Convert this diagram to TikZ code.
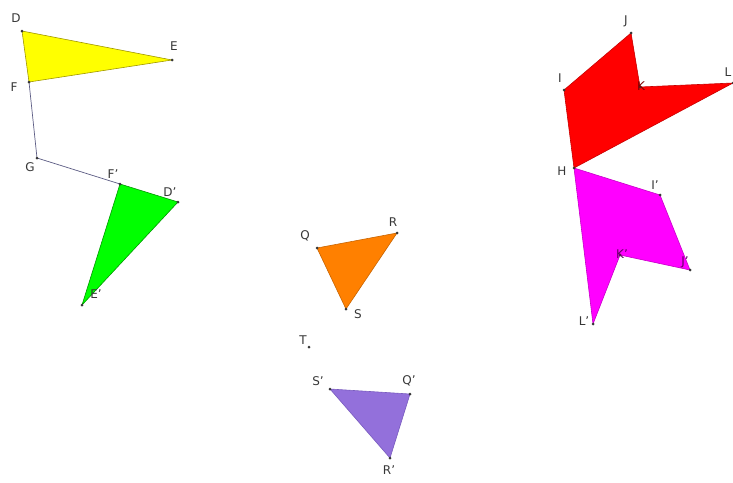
\documentclass[tikz,border=0pt]{standalone}
\usepackage{fontspec}
\setmainfont{DejaVu Sans}
\definecolor{cyel}{RGB}{255,255,0}
\definecolor{cyelD}{RGB}{160,150,0}
\definecolor{cgrn}{RGB}{0,255,0}
\definecolor{cgrnD}{RGB}{0,150,0}
\definecolor{corg}{RGB}{255,128,0}
\definecolor{corgD}{RGB}{200,100,0}
\definecolor{cpur}{RGB}{147,112,219}
\definecolor{cpurD}{RGB}{120,90,190}
\definecolor{cred}{RGB}{255,0,0}
\definecolor{credD}{RGB}{200,0,0}
\definecolor{cmag}{RGB}{255,0,255}
\definecolor{cmagD}{RGB}{200,0,200}
\definecolor{cline}{RGB}{90,90,130}
\definecolor{ctext}{RGB}{55,55,55}
\begin{document}
\begin{tikzpicture}[x=1pt,y=-1pt,
  lbl/.style={text=ctext,font=\fontsize{12}{13}\selectfont,inner sep=0pt},
  shp/.style={line width=0.6pt}]
\useasboundingbox (0,0) rectangle (733,482);
% vertices
\coordinate (D) at (22,31);
\coordinate (E) at (172,60);
\coordinate (F) at (29,82);
\coordinate (G) at (37,158);
\coordinate (Fp) at (120,184);
\coordinate (Dp) at (178,202);
\coordinate (Ep) at (82,305);
\coordinate (Q) at (317,248);
\coordinate (R) at (397,233);
\coordinate (S) at (346,309);
\coordinate (T) at (309,347);
\coordinate (Sp) at (330,389);
\coordinate (Qp) at (410,394);
\coordinate (Rp) at (390,458);
\coordinate (J) at (631,33);
\coordinate (I) at (564,90);
\coordinate (K) at (640,87);
\coordinate (L) at (733,83);
\coordinate (H) at (574,168);
\coordinate (Ip) at (660,195);
\coordinate (Jp) at (690,270);
\coordinate (Kp) at (620,255);
\coordinate (Lp) at (593,324);
% shapes
\filldraw[shp,fill=cyel,draw=cyelD] (D) -- (E) -- (F) -- cycle;
\draw[draw=cline,line width=0.7pt] (F) -- (G) -- (Fp);
\filldraw[shp,fill=cgrn,draw=cgrnD] (Fp) -- (Dp) -- (Ep) -- cycle;
\filldraw[shp,fill=corg,draw=corgD] (Q) -- (R) -- (S) -- cycle;
\filldraw[shp,fill=cpur,draw=cpurD] (Sp) -- (Qp) -- (Rp) -- cycle;
\filldraw[shp,fill=cred,draw=credD] (H) -- (I) -- (J) -- (K) -- (L) -- cycle;
\filldraw[shp,fill=cmag,draw=cmagD] (H) -- (Ip) -- (Jp) -- (Kp) -- (Lp) -- cycle;
% points
\foreach \p in {D,E,F,G,Fp,Dp,Ep,Q,R,S,T,Sp,Qp,Rp,J,I,K,L,H,Ip,Jp,Kp,Lp}
  \fill[ctext] (\p) circle (1.5);
% labels
\node[lbl] (lD) at (16,18) {D};
\node[lbl] (lE) at (174,46) {E};
\node[lbl] (lF) at (14,87) {F};
\node[lbl] (lG) at (30,167) {G};
\node[lbl] (lFp) at (113,174) {F'};
\node[lbl] (lDp) at (170,192) {D'};
\node[lbl] (lEp) at (96,294) {E'};
\node[lbl] (lQ) at (305,236) {Q};
\node[lbl] (lR) at (393,222) {R};
\node[lbl] (lS) at (358,314) {S};
\node[lbl] (lT) at (303,340) {T};
\node[lbl] (lSp) at (318,381) {S'};
\node[lbl] (lQp) at (409,381) {Q'};
\node[lbl] (lRp) at (389,470) {R'};
\node[lbl] (lJ) at (626,21) {J};
\node[lbl] (lI) at (560,78) {I};
\node[lbl,text=red!50!black] (lK) at (641,86) {K};
\node[lbl] (lL) at (728,72) {L};
\node[lbl] (lH) at (562,171) {H};
\node[lbl] (lIp) at (655,185) {I'};
\node[lbl,text=cmag!40!black] (lJp) at (685,262) {J'};
\node[lbl,text=cmag!40!black] (lKp) at (622,254) {K'};
\node[lbl] (lLp) at (584,321) {L'};
\end{tikzpicture}
\end{document}
